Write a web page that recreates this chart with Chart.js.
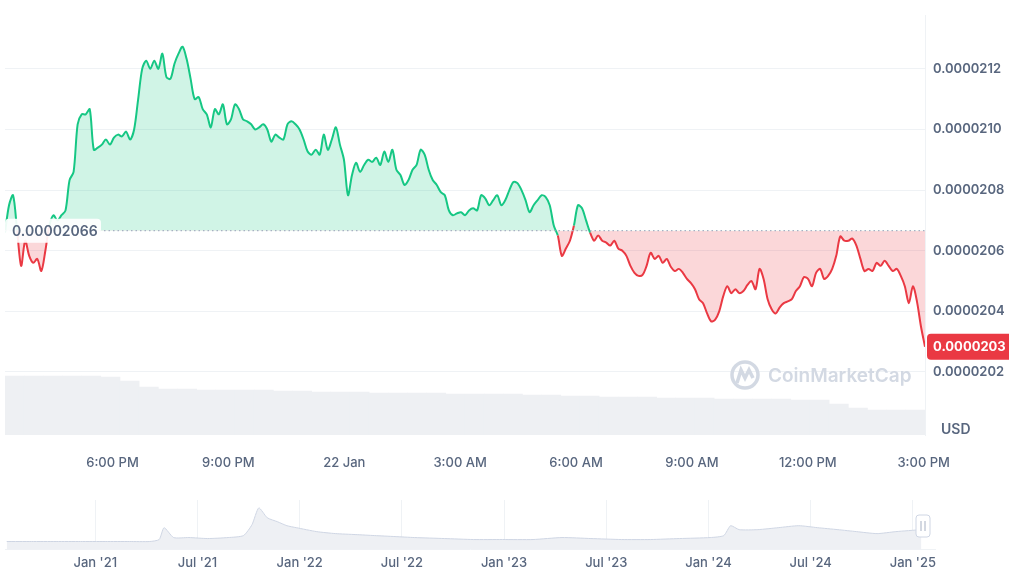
<!DOCTYPE html>
<html><head><meta charset="utf-8">
<script src="https://cdn.jsdelivr.net/npm/chart.js@4.4.1/dist/chart.umd.min.js"></script>
<style>
body{margin:0;background:#fff;width:1009px;height:577px;overflow:hidden;font-family:Inter,"DejaVu Sans",sans-serif}
#w1{position:absolute;left:0;top:0;width:1009px;height:470px}
#w2{position:absolute;left:0;top:490px;width:1009px;height:87px}
#usd{position:absolute;left:941px;top:420px;font:600 14px Inter,sans-serif;color:#58667e}
</style></head><body>
<div id="w1"><canvas id="c1"></canvas></div>
<div id="w2"><canvas id="c2"></canvas></div>
<div id="usd">USD</div>
<script>
// price in units of 1e-5
const prices=[2.0660,2.0750,2.0783,2.0667,2.0550,2.0633,2.0583,2.0560,2.0573,2.0533,2.0600,2.0683,2.0717,2.0700,2.0717,2.0733,2.0833,2.0860,2.1017,2.1050,2.1050,2.1067,2.0933,2.0940,2.0950,2.0967,2.0950,2.0973,2.0983,2.0977,2.0993,2.0967,2.1000,2.1100,2.1200,2.1227,2.1200,2.1227,2.1200,2.1250,2.1173,2.1167,2.1217,2.1250,2.1273,2.1233,2.1167,2.1100,2.1107,2.1067,2.1050,2.1007,2.1067,2.1050,2.1083,2.1017,2.1033,2.1083,2.1067,2.1033,2.1027,2.1017,2.1000,2.1007,2.1017,2.1000,2.0960,2.0983,2.0973,2.0967,2.1017,2.1027,2.1017,2.1000,2.0967,2.0927,2.0917,2.0933,2.0917,2.0983,2.0933,2.0967,2.1007,2.0950,2.0900,2.0783,2.0850,2.0890,2.0860,2.0883,2.0900,2.0893,2.0907,2.0883,2.0927,2.0893,2.0933,2.0867,2.0850,2.0817,2.0833,2.0867,2.0883,2.0933,2.0917,2.0867,2.0833,2.0817,2.0793,2.0783,2.0733,2.0717,2.0723,2.0727,2.0717,2.0733,2.0740,2.0733,2.0783,2.0773,2.0750,2.0767,2.0783,2.0750,2.0767,2.0800,2.0827,2.0823,2.0800,2.0767,2.0727,2.0750,2.0767,2.0783,2.0777,2.0750,2.0683,2.0650,2.0583,2.0607,2.0633,2.0683,2.0750,2.0740,2.0700,2.0660,2.0633,2.0650,2.0633,2.0627,2.0617,2.0633,2.0607,2.0600,2.0583,2.0550,2.0527,2.0517,2.0520,2.0550,2.0593,2.0573,2.0583,2.0560,2.0573,2.0547,2.0533,2.0540,2.0527,2.0507,2.0493,2.0473,2.0440,2.0427,2.0393,2.0367,2.0373,2.0400,2.0450,2.0483,2.0460,2.0473,2.0460,2.0467,2.0487,2.0500,2.0473,2.0540,2.0507,2.0440,2.0407,2.0393,2.0413,2.0427,2.0433,2.0440,2.0467,2.0483,2.0513,2.0507,2.0483,2.0527,2.0540,2.0507,2.0517,2.0540,2.0583,2.0647,2.0633,2.0633,2.0640,2.0617,2.0573,2.0533,2.0540,2.0533,2.0560,2.0550,2.0567,2.0550,2.0533,2.0540,2.0517,2.0483,2.0427,2.0483,2.0433,2.0350,2.0283];
const baseline=2.0666;
const startMin=913, endMin=2342; // minutes from 21 Jan 00:00
const volumes=[59,59,59,59,59,58,54,48,46,46,45,45,45,45,44,44,43,43,43,42,42,42,42,41,41,41,41,40,40,39,39,38,38,38,37,37,37,36,36,36,36,35,35,31,27,25,25,25];
const yTicks=[2.02,2.04,2.06,2.08,2.10,2.12];
const xTicks=[1080,1260,1440,1620,1800,1980,2160,2340];
const xTickLabels=["6:00 PM","9:00 PM","22 Jan","3:00 AM","6:00 AM","9:00 AM","12:00 PM","3:00 PM"];
// navigator history (months from Jan 2021, relative volume)
const navMonths=[-5.2,-3.75,-2.3,-0.87,0.58,2.0,3.2,3.75,4.04,4.6,5.5,6.6,7.8,8.7,9.2,9.6,10.1,10.7,11.25,11.8,13.0,14.1,15.3,16.4,17.6,18.75,20.5,22.2,23.9,25.7,27.4,29.1,30.9,32.6,34.3,36.1,36.9,37.3,37.8,38.9,40.1,41.3,42.4,43.6,44.7,45.9,47.0,48.5];
const navValues=[8,8,8,8,8,8,8,10,22,12,12,11,12,14,25,42,32,28,24,22,18,16,15,14,13,12,11,10,10,10,12,11,10,10,11,12,14,24,20,20,22,24,22,20,18,16,18,20];
const navTickLabels=["Jan '21","Jul '21","Jan '22","Jul '22","Jan '23","Jul '23","Jan '24","Jul '24","Jan '25"];

const GREEN='#16c784', RED='#ea3943', TXT='#58667e';
const N=prices.length;
const pts=prices.map((p,i)=>({x:startMin+i*(endMin-startMin)/(N-1),y:p}));
const volPts=volumes.map((v,i)=>({x:startMin+(i+0.5)*(endMin-startMin)/volumes.length,y:v}));
function fmtT(m){const i=xTicks.indexOf(m);return i>=0?xTickLabels[i]:'';}

const gradPlugin={id:'grad',beforeDatasetsDraw(ch){
  const a=ch.chartArea, y=ch.scales.y, ctx=ch.ctx, by=y.getPixelForValue(baseline);
  const g=ctx.createLinearGradient(0,a.top+40,0,by);
  g.addColorStop(0,'rgba(22,199,132,0.32)');g.addColorStop(1,'rgba(22,199,132,0.08)');
  const r=ctx.createLinearGradient(0,by,0,y.getPixelForValue(2.036));
  r.addColorStop(0,'rgba(234,57,67,0.25)');r.addColorStop(1,'rgba(234,57,67,0.03)');
  ch.data.datasets[1].fill.above=g;ch.data.datasets[1].fill.below=r;
}};
const deco={id:'deco',afterDraw(ch){
  const a=ch.chartArea,y=ch.scales.y,ctx=ch.ctx,by=y.getPixelForValue(baseline);
  ctx.save();
  ctx.strokeStyle='#a6b0c3';ctx.lineWidth=1.2;ctx.setLineDash([1.5,3]);
  ctx.beginPath();ctx.moveTo(a.left,by);ctx.lineTo(a.right,by);ctx.stroke();ctx.setLineDash([]);
  ctx.fillStyle='rgba(255,255,255,0.92)';
  ctx.beginPath();ctx.roundRect(5,by-12,96,24,4);ctx.fill();
  ctx.fillStyle=TXT;ctx.font='600 14px Inter';ctx.textBaseline='middle';ctx.fillText('0.00002066',12,by+1);
  const last=prices[N-1], ly=y.getPixelForValue(last);
  ctx.fillStyle=RED;ctx.beginPath();ctx.roundRect(a.right+2,ly-13,90,26,4);ctx.fill();
  ctx.fillStyle='#fff';ctx.font='700 13px Inter';ctx.fillText('0.0000203',a.right+8,ly);
  ctx.strokeStyle='#d3d9e3';ctx.lineWidth=3.5;
  ctx.beginPath();ctx.arc(745,375,13,0,Math.PI*2);ctx.stroke();
  ctx.beginPath();ctx.moveTo(737,383);ctx.lineTo(741,370);ctx.lineTo(745,378);ctx.lineTo(749,370);ctx.lineTo(753,378);ctx.stroke();
  ctx.fillStyle='#d3d9e3';ctx.font='600 19px Inter';ctx.fillText('CoinMarketCap',768,376);
  ctx.restore();
}};

new Chart(document.getElementById('c1'),{
  data:{datasets:[
    {type:'bar',data:volPts,xAxisID:'x',yAxisID:'yv',backgroundColor:'#eef0f3',barPercentage:1,categoryPercentage:1,order:2},
    {type:'line',data:pts,yAxisID:'y',borderWidth:2,pointRadius:0,tension:0.3,order:1,
     fill:{target:{value:baseline},above:'rgba(22,199,132,0.2)',below:'rgba(234,57,67,0.2)'},
     segment:{borderColor:c=>((c.p0.parsed.y+c.p1.parsed.y)/2>=baseline?GREEN:RED)}}
  ]},
  options:{responsive:true,maintainAspectRatio:false,animation:false,
    layout:{padding:{left:5,top:0,right:0}},
    plugins:{legend:{display:false},tooltip:{enabled:false}},
    scales:{
      x:{type:'linear',min:startMin,max:endMin,offset:false,
        afterBuildTicks:s=>{s.ticks=xTicks.map(v=>({value:v}));},
        afterFit:s=>{s.height=35;},
        ticks:{callback:v=>fmtT(v),color:TXT,font:{family:'Inter',size:13,weight:'500'},maxRotation:0,autoSkip:false,padding:12},
        grid:{display:false},border:{display:false}},
      y:{position:'right',min:1.9992,max:2.1375,
        afterBuildTicks:s=>{s.ticks=yTicks.map(v=>({value:v}));},
        afterFit:s=>{s.width=84;},
        ticks:{callback:v=>(v/100000).toFixed(7),color:TXT,font:{family:'Inter',size:13,weight:'600'},padding:8},
        grid:{color:'#eff2f5',drawTicks:false},border:{display:true,color:'#eff2f5'}},
      yv:{display:false,min:0,max:419}
    }},
  plugins:[gradPlugin,deco]
});

const navPts=navMonths.map((m,i)=>({x:m,y:navValues[i]}));
const navDeco={id:'nd',afterDraw(ch){const ctx=ch.ctx,a=ch.chartArea;ctx.save();
  ctx.fillStyle='#fff';ctx.strokeStyle='#cfd6e4';ctx.beginPath();ctx.roundRect(a.right-19,a.top+15,14,22,3);ctx.fill();ctx.stroke();
  ctx.strokeStyle='#a6b0c3';ctx.beginPath();ctx.moveTo(a.right-14,a.top+21);ctx.lineTo(a.right-14,a.top+31);ctx.moveTo(a.right-10,a.top+21);ctx.lineTo(a.right-10,a.top+31);ctx.stroke();ctx.restore();}};
new Chart(document.getElementById('c2'),{
  type:'line',
  data:{datasets:[{data:navPts,borderColor:'#cfd6e4',borderWidth:1,pointRadius:0,fill:'origin',backgroundColor:'#eef0f4',tension:0.2}]},
  options:{responsive:true,maintainAspectRatio:false,animation:false,
    layout:{padding:{left:5,right:74,top:10}},
    plugins:{legend:{display:false},tooltip:{enabled:false}},
    scales:{
      x:{type:'linear',min:-5.3,max:49.3,
        afterBuildTicks:s=>{s.ticks=navTickLabels.map((l,i)=>({value:i*6}));},
        ticks:{callback:(v)=>navTickLabels[v/6]||'',color:TXT,font:{family:'Inter',size:13,weight:'500'},maxRotation:0,autoSkip:false,padding:6},
        grid:{color:'#eff2f5',drawTicks:false},border:{color:'#eff2f5'}},
      y:{display:false,min:0,max:50}
    }},
  plugins:[navDeco]
});
</script></body></html>
